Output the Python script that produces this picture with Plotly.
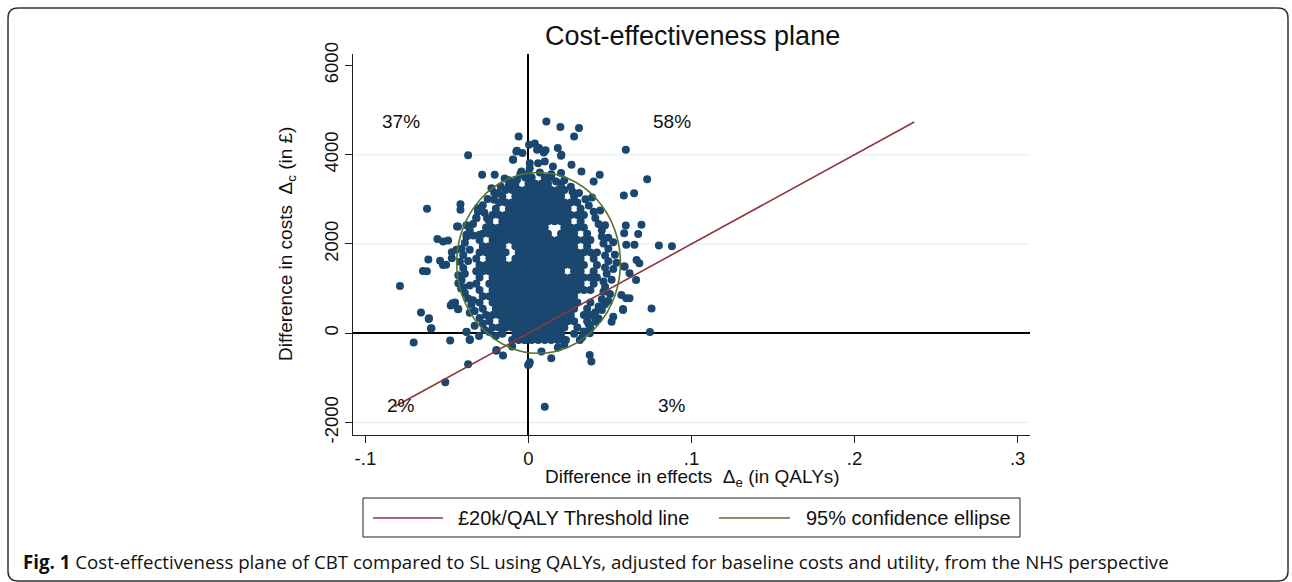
import plotly.graph_objects as go

# ---------------- data ----------------
title_text = "Cost-effectiveness plane"
x_tick_vals = [-0.1, 0, 0.1, 0.2, 0.3]
x_tick_text = ["-.1", "0", ".1", ".2", ".3"]
y_tick_vals = [-2000, 0, 2000, 4000, 6000]
y_tick_text = ["-2000", "0", "2000", "4000", "6000"]
grid_costs = [-2000, 2000, 4000]
x_range = [-0.1076, 0.3076]
y_range = [-2280, 6256]

threshold_wtp = 20000            # £ per QALY
threshold_effects = [-0.082, 0.2366]

ellipse_center = (0.0062, 1576)
ellipse_semi_axes = (0.0502, 2025)

quadrant_labels = ["37%", "58%", "2%", "3%"]
quadrant_effects = [-0.078, 0.088, -0.078, 0.088]
quadrant_costs = [4740, 4740, -1615, -1615]

# dense core of bootstrap replicates: (cost difference, [effect differences])
cloud_rows = [
    (-150, [-0.010, -0.006, -0.002, 0.002, 0.006, 0.010, 0.014, 0.018, 0.022]),
    (-10, [-0.016, -0.008, -0.004, 0.000, 0.004, 0.008, 0.012, 0.016, 0.020, 0.028]),
    (130, [-0.022, -0.018, -0.014, -0.010, -0.006, -0.002, 0.002, 0.006, 0.010, 0.014, 0.018, 0.022,
           0.030]),
    (270, [-0.024, -0.016, -0.012, -0.008, -0.004, 0.000, 0.004, 0.008, 0.012, 0.016, 0.020,
           0.024, 0.028, 0.036]),
    (410, [-0.026, -0.022, -0.018, -0.014, -0.010, -0.006, -0.002, 0.002, 0.006, 0.010, 0.014, 0.018,
           0.022, 0.026, 0.034, 0.038]),
    (550, [-0.028, -0.020, -0.016, -0.012, -0.008, -0.004, 0.000, 0.004, 0.008, 0.012, 0.016,
           0.020, 0.024, 0.028, 0.036]),
    (690, [-0.030, -0.022, -0.018, -0.014, -0.010, -0.006, -0.002, 0.002, 0.006, 0.010, 0.014,
           0.018, 0.022, 0.026, 0.030, 0.038]),
    (830, [-0.028, -0.024, -0.020, -0.016, -0.012, -0.008, -0.004, 0.000, 0.004, 0.008, 0.012, 0.016,
           0.020, 0.024, 0.028]),
    (970, [-0.030, -0.022, -0.018, -0.014, -0.010, -0.006, -0.002, 0.002, 0.006, 0.010, 0.014,
           0.018, 0.022, 0.026, 0.030, 0.034, 0.038]),
    (1110, [-0.032, -0.024, -0.020, -0.016, -0.012, -0.008, -0.004, 0.000, 0.004, 0.008, 0.012, 0.016,
            0.020, 0.024, 0.028, 0.032, 0.040]),
    (1250, [-0.030, -0.022, -0.018, -0.014, -0.010, -0.006, -0.002, 0.002, 0.006, 0.010, 0.014,
            0.018, 0.022, 0.026, 0.030, 0.034, 0.038, 0.042]),
    (1390, [-0.032, -0.028, -0.024, -0.020, -0.016, -0.012, -0.008, -0.004, 0.000, 0.004, 0.008, 0.012,
            0.016, 0.020, 0.028, 0.032, 0.040]),
    (1530, [-0.030, -0.026, -0.022, -0.018, -0.014, -0.010, -0.006, -0.002, 0.002, 0.006, 0.010, 0.014,
            0.018, 0.022, 0.026, 0.030, 0.034, 0.042]),
    (1670, [-0.032, -0.024, -0.020, -0.016, -0.008, -0.004, 0.000, 0.004, 0.008, 0.012,
            0.016, 0.020, 0.024, 0.028, 0.032, 0.040]),
    (1810, [-0.030, -0.026, -0.022, -0.018, -0.014, -0.006, -0.002, 0.002, 0.006, 0.010, 0.014, 0.018,
            0.022, 0.026, 0.030, 0.034, 0.038, 0.042]),
    (1950, [-0.028, -0.024, -0.020, -0.016, -0.008, -0.004, 0.000, 0.004, 0.008, 0.012, 0.016,
            0.020, 0.024, 0.028, 0.036]),
    (2090, [-0.030, -0.022, -0.018, -0.014, -0.010, -0.006, -0.002, 0.002, 0.006, 0.010, 0.014,
            0.018, 0.022, 0.026, 0.030, 0.034, 0.038]),
    (2230, [-0.028, -0.024, -0.020, -0.016, -0.012, -0.008, -0.004, 0.000, 0.004, 0.008, 0.012,
            0.020, 0.024, 0.028, 0.036]),
    (2370, [-0.026, -0.022, -0.018, -0.014, -0.010, -0.006, -0.002, 0.002, 0.006, 0.010, 0.022,
            0.026, 0.030, 0.034]),
    (2510, [-0.024, -0.016, -0.012, -0.008, -0.004, 0.000, 0.004, 0.008, 0.012, 0.016, 0.020,
            0.024, 0.032]),
    (2650, [-0.022, -0.018, -0.014, -0.010, -0.006, -0.002, 0.002, 0.006, 0.010, 0.014, 0.018, 0.022,
            0.026, 0.030, 0.034]),
    (2790, [-0.020, -0.012, -0.008, -0.004, 0.000, 0.004, 0.008, 0.012, 0.016, 0.020, 0.024,
            0.032]),
    (2930, [-0.018, -0.014, -0.010, -0.006, -0.002, 0.002, 0.006, 0.010, 0.014, 0.018, 0.022, 0.026,
            0.030]),
    (3070, [-0.016, -0.008, -0.004, 0.000, 0.004, 0.008, 0.012, 0.016, 0.020, 0.028]),
    (3210, [-0.014, -0.010, -0.006, -0.002, 0.002, 0.006, 0.010, 0.014, 0.018, 0.022]),
    (3350, [-0.008, 0.000, 0.004, 0.008, 0.012, 0.020]),
    (3490, [-0.002, 0.002, 0.010, 0.014]),
]

# sparser replicates around the core and outside the ellipse: (effect, cost)
edge_points = [
    (-0.010, -300), (0.018, -320), (0.022, -260), (-0.020, -60), (0.033, -90), (-0.024, 30),
    (-0.027, 80), (0.034, 40), (0.038, 110), (-0.028, 220), (-0.033, 170), (0.037, 200),
    (0.041, 260), (-0.030, 340), (0.040, 380), (0.043, 330), (-0.033, 500), (-0.036, 460),
    (0.041, 470), (0.045, 520), (-0.035, 640), (0.043, 600), (0.047, 650), (-0.037, 780),
    (-0.034, 740), (0.045, 760), (0.049, 720), (-0.039, 900), (0.046, 930), (0.050, 880),
    (-0.040, 1030), (-0.036, 1070), (0.047, 1040), (-0.041, 1190), (0.046, 1160), (0.051, 1200),
    (-0.039, 1330), (-0.043, 1300), (0.048, 1330), (-0.040, 1460), (0.047, 1470), (0.052, 1440),
    (-0.042, 1600), (-0.037, 1620), (0.049, 1610), (0.054, 1580), (-0.040, 1750), (0.047, 1740),
    (0.053, 1760), (-0.041, 1890), (-0.036, 1870), (0.049, 1890), (-0.039, 2030), (0.046, 2010),
    (0.052, 2040), (-0.038, 2160), (-0.034, 2190), (0.045, 2170), (0.049, 2140), (-0.036, 2300),
    (0.045, 2310), (-0.034, 2450), (-0.038, 2420), (0.043, 2450), (0.047, 2420), (-0.032, 2590),
    (0.041, 2580), (-0.031, 2730), (-0.027, 2700), (0.040, 2720), (0.044, 2750), (-0.028, 2870),
    (0.037, 2860), (-0.025, 3010), (-0.021, 2990), (0.035, 3000), (0.039, 3040), (-0.021, 3150),
    (0.031, 3140), (0.027, 3170), (-0.017, 3290), (0.026, 3280), (-0.012, 3310), (-0.012, 3430),
    (0.022, 3430), (0.017, 3400), (-0.007, 3440), (0.000, 3580), (0.007, 3600), (0.014, 3560),
    (0.020, 3590), (-0.005, 3570),
    (0.011, 4745), (0.0196, 4619), (0.031, 4596), (0.028, 4408), (-0.006, 4408), (0.0004, 4222),
    (0.0039, 4250), (0.0065, 4150), (0.0105, 4100), (0.0094, 4050), (0.018, 4148), (0.020, 3975),
    (-0.007, 4088), (-0.0095, 3890), (-0.037, 3990), (0.0597, 4110), (0.0728, 3452), (0.0648, 3139),
    (0.0585, 3085), (0.0693, 2428), (0.0597, 2412), (0.080, 1965), (0.088, 1950), (0.0663, 1643),
    (0.0755, 552), (0.0745, 30), (0.062, 785), (0.058, 545), (0.0376, -487), (0.0386, -636),
    (0.010, -1645), (0.0004, -696), (-0.0156, -501), (-0.0197, -390), (-0.037, -696), (-0.051, -1099),
    (-0.048, -165), (-0.036, -150), (-0.038, 30), (-0.0704, -210), (-0.0788, 1060), (-0.0659, 462),
    (-0.061, 335), (-0.0598, 105), (-0.0622, 2787), (-0.0614, 1650), (-0.0647, 1397), (-0.0623, 1388),
    (-0.0558, 2114), (-0.0523, 2054), (-0.0493, 2077), (-0.0542, 1622), (-0.0505, 1532), (-0.047, 1682),
    (-0.047, 1816), (-0.0442, 1868), (-0.0417, 2892), (-0.0417, 2765), (-0.0438, 2392), (-0.047, 635),
    (-0.045, 687), (-0.043, 545), (-0.0413, 1000), (-0.043, 1120), (-0.0284, 3550), (-0.0207, 3550),
    (-0.0146, 3468),
    (0.0053, 4110), (0.0202, 3998), (0.0008, 3811), (0.0059, 3811), (0.010, 3848), (0.015, 3736),
    (0.0264, 3773), (0.0325, 3623), (0.0437, 3549), (-0.0037, 4036), (0.040, 3400), (-0.0074, 4072),
    (-0.0094, 3885), (-0.0043, 3623), (0.0008, 3699), (-0.031, 2802), (-0.0227, 3251), (-0.0186, 3139),
    (-0.0115, 3400), (-0.0254, 2578), (-0.0319, 2578), (-0.0432, 2390), (-0.038, 2204), (-0.030, 2204),
    (-0.0524, 1531), (-0.0466, 672), (-0.0477, 619), (-0.0432, 538), (-0.0612, 320), (-0.0595, 112),
    (-0.038, 36), (-0.036, -134), (-0.0303, -60), (-0.0196, -374), (-0.0023, -150), (-0.0002, -710),
    (0.065, 1980), (0.060, 1980), (0.059, 1493), (0.062, 1345), (0.066, 1195), (0.058, 522),
    (0.052, 372), (0.051, 260), (0.057, 859), (0.060, 785), (0.014, -560), (0.0008, -650),
    (0.008, -412), (0.0376, 0), (0.0315, -150), (0.023, -150), (0.0673, 2226), (0.0587, 2242),
    (0.068, 1569), (0.0587, 1493),
]

legend_labels = ["£20k/QALY Threshold line", "95% confidence ellipse"]
caption_bold = "Fig. 1"
caption_text = ("Cost-effectiveness plane of CBT compared to SL using QALYs, adjusted for "
                "baseline costs and utility, from the NHS perspective")

# ---------------- styling ----------------
NAVY = "#1a476f"
MAROON = "#90353b"
GREEN = "#55752f"
GRID = "#eaf2f3"
FONT = "Liberation Sans, Arial, sans-serif"

W, H = 1292, 582
PL, PT, PR, PB = 353, 54, 1030, 435  # plot area in pixels


def pxx(px):
    return (px - PL) / (PR - PL)


def pxy(py):
    return (PB - py) / (PB - PT)


eff = []
cost = []
for c, xs in cloud_rows:
    for e in xs:
        eff.append(e)
        cost.append(c)
for e, c in edge_points:
    eff.append(e)
    cost.append(c)

fig = go.Figure()
fig.add_trace(go.Scatter(
    x=eff, y=cost, mode="markers",
    marker=dict(size=8, color=NAVY, line=dict(width=0)),
    showlegend=False, hoverinfo="skip",
))
fig.add_trace(go.Scatter(
    x=threshold_effects, y=[threshold_wtp * e for e in threshold_effects],
    mode="lines", line=dict(color=MAROON, width=1.6), showlegend=False,
))

shapes = []
for g in grid_costs:
    shapes.append(dict(type="line", xref="paper", yref="y", x0=0, x1=1, y0=g, y1=g,
                       line=dict(color=GRID, width=1.6), layer="below"))
cx, cy = ellipse_center
ax, ay = ellipse_semi_axes
shapes.append(dict(type="circle", xref="x", yref="y", x0=cx - ax, x1=cx + ax,
                   y0=cy - ay, y1=cy + ay, line=dict(color=GREEN, width=1.6), layer="above"))

# legend box
shapes.append(dict(type="rect", xref="paper", yref="paper", x0=pxx(363), x1=pxx(1020),
                   y0=pxy(498), y1=pxy(537), line=dict(color="#222", width=1), fillcolor="white"))
shapes.append(dict(type="line", xref="paper", yref="paper", x0=pxx(373), x1=pxx(443),
                   y0=pxy(518), y1=pxy(518), line=dict(color=MAROON, width=1.6)))
shapes.append(dict(type="line", xref="paper", yref="paper", x0=pxx(719), x1=pxx(790),
                   y0=pxy(518), y1=pxy(518), line=dict(color=GREEN, width=1.6)))

# outer rounded frame
fx0, fy0, fx1, fy1, r = 8, 8, 1288, 581, 10
path = (f"M {pxx(fx0 + r)},{pxy(fy0)} L {pxx(fx1 - r)},{pxy(fy0)} "
        f"Q {pxx(fx1)},{pxy(fy0)} {pxx(fx1)},{pxy(fy0 + r)} L {pxx(fx1)},{pxy(fy1 - r)} "
        f"Q {pxx(fx1)},{pxy(fy1)} {pxx(fx1 - r)},{pxy(fy1)} L {pxx(fx0 + r)},{pxy(fy1)} "
        f"Q {pxx(fx0)},{pxy(fy1)} {pxx(fx0)},{pxy(fy1 - r)} L {pxx(fx0)},{pxy(fy0 + r)} "
        f"Q {pxx(fx0)},{pxy(fy0)} {pxx(fx0 + r)},{pxy(fy0)} Z")
shapes.append(dict(type="path", xref="paper", yref="paper", path=path,
                   line=dict(color="#333", width=1.5)))


def note(x, y, text, size=19, xanchor="center", ref="paper", **kw):
    return dict(x=x, y=y, xref=ref, yref=ref, text=text, showarrow=False,
                xanchor=xanchor, yanchor="middle",
                font=dict(size=size, color="#111", family=kw.pop("family", FONT)), **kw)


annotations = []
for lab, e, c in zip(quadrant_labels, quadrant_effects, quadrant_costs):
    a = note(e, c, lab, ref="x")
    a["yref"] = "y"
    annotations.append(a)
annotations.append(note(pxx(692), pxy(36), title_text, size=27))
annotations.append(note(pxx(692), pxy(478), "Difference in effects  Δ<sub>e</sub> (in QALYs)"))
annotations.append(note(pxx(287), pxy(244), "Difference in costs  Δ<sub>c</sub> (in £)",
                        textangle=-90))
annotations.append(note(pxx(456), pxy(518), legend_labels[0], size=20, xanchor="left"))
annotations.append(note(pxx(804), pxy(518), legend_labels[1], size=20, xanchor="left"))
annotations.append(note(pxx(21), pxy(561), f"<b>{caption_bold}</b> {caption_text}",
                        size=18.7, xanchor="left", family="Open Sans, sans-serif"))

fig.update_layout(
    width=W, height=H,
    margin=dict(l=PL, r=W - PR, t=PT, b=H - PB, pad=0),
    paper_bgcolor="white", plot_bgcolor="white",
    font=dict(family=FONT, color="#111", size=18),
    showlegend=False,
    shapes=shapes, annotations=annotations,
    xaxis=dict(range=x_range, tickvals=x_tick_vals, ticktext=x_tick_text,
               showgrid=False, zeroline=True, zerolinecolor="black", zerolinewidth=1.6,
               showline=True, linecolor="#222", linewidth=1, ticks="outside", ticklen=7,
               tickcolor="#222", tickfont=dict(size=18.5), fixedrange=True),
    yaxis=dict(range=y_range, tickvals=y_tick_vals, ticktext=y_tick_text, tickangle=-90,
               showgrid=False, zeroline=True, zerolinecolor="black", zerolinewidth=2,
               showline=True, linecolor="#222", linewidth=1, ticks="outside", ticklen=7,
               tickcolor="#222", tickfont=dict(size=18.5), fixedrange=True),
)

fig.write_html("out.html", config={"displayModeBar": False},
               post_script="document.body.style.margin='0px';")
